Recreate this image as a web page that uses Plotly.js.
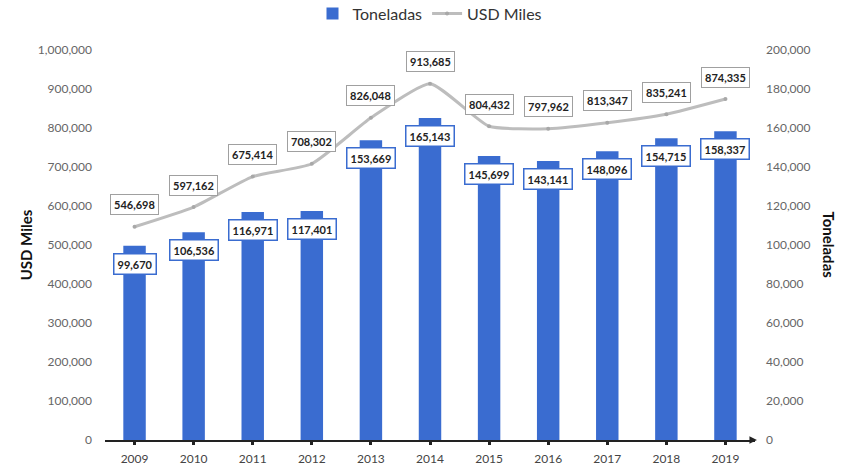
<!DOCTYPE html>
<html>
<head>
<meta charset="utf-8">
<script src="https://cdn.plot.ly/plotly-3.0.1.min.js"></script>
<style>html,body{margin:0;padding:0;background:#fff;}#chart{width:844px;height:472px;}</style>
</head>
<body>
<div id="chart"></div>
<script>
const years = ["2009","2010","2011","2012","2013","2014","2015","2016","2017","2018","2019"];
const toneladas = [99670,106536,116971,117401,153669,165143,145699,143141,148096,154715,158337];
const usdMiles = [546698,597162,675414,708302,826048,913685,804432,797962,813347,835241,874335];

const fontFam = "Lato, 'Open Sans', sans-serif";
const fmt = v => v.toLocaleString('en-US');

const barTrace = {
  type: 'bar', name: 'Toneladas', x: years, y: toneladas, yaxis: 'y2',
  marker: {color: '#3a6cd0'}, hoverinfo: 'none'
};
const lineTrace = {
  type: 'scatter', mode: 'lines+markers', name: 'USD Miles', x: years, y: usdMiles, yaxis: 'y',
  line: {color: '#bdbdbd', width: 3, shape: 'spline', smoothing: 0.5},
  marker: {color: '#a8a8a8', size: 4}, hoverinfo: 'none'
};

const annotations = [];
years.forEach((yr, i) => {
  annotations.push({
    x: i, y: usdMiles[i], xref: 'x', yref: 'y', text: fmt(usdMiles[i]),
    showarrow: false, yshift: 22,
    font: {family: fontFam, size: 11, color: '#222', weight: 'bold'},
    bgcolor: '#ffffff', bordercolor: '#a0a0a0', borderwidth: 1, borderpad: 3
  });
  annotations.push({
    x: i, y: toneladas[i], xref: 'x', yref: 'y2', text: fmt(toneladas[i]),
    showarrow: false, yshift: -18,
    font: {family: fontFam, size: 11, color: '#222', weight: 'bold'},
    bgcolor: '#ffffff', bordercolor: '#3a6cd0', borderwidth: 1.5, borderpad: 3
  });
});
annotations.push({
  xref: 'paper', yref: 'paper', x: 1.13, y: 0.5, text: 'Toneladas', textangle: 90,
  showarrow: false, font: {family: fontFam, size: 15, color: '#111', weight: 'bold'}
});
annotations.push({
  xref: 'paper', yref: 'paper', x: -0.138, y: 0.5, text: 'USD Miles', textangle: -90,
  showarrow: false, font: {family: fontFam, size: 15, color: '#111', weight: 'bold'}
});
annotations.push({
  xref: 'paper', yref: 'paper', x: 1.003, y: 0, ax: -6, ay: 0, axref: 'pixel', ayref: 'pixel',
  text: '', showarrow: true, arrowhead: 2, arrowsize: 1, arrowwidth: 1.5, arrowcolor: '#222'
});

const layout = {
  width: 844, height: 472,
  margin: {l: 105, r: 89, t: 50, b: 32},
  paper_bgcolor: '#ffffff', plot_bgcolor: '#ffffff',
  font: {family: fontFam, color: '#555'},
  bargap: 0.62,
  showlegend: true,
  legend: {orientation: 'h', x: 0.5, xanchor: 'center', y: 0.935, yanchor: 'bottom', yref: 'container',
    font: {family: fontFam, size: 16, color: '#333'}, traceorder: 'normal'},
  xaxis: {
    type: 'category', range: [-0.5, 10.5], showgrid: false, zeroline: false,
    showline: true, linecolor: '#222', linewidth: 1.5,
    ticks: 'outside', ticklen: 3, tickwidth: 3, tickcolor: '#222', ticklabelstandoff: 4,
    tickfont: {family: fontFam, size: 12, color: '#444'}
  },
  yaxis: {
    range: [0, 1000000], dtick: 100000, tickformat: ',d', showgrid: false, zeroline: false,
    showline: false, ticklabelstandoff: 12, tickfont: {family: fontFam, size: 12, color: '#666'}
  },
  yaxis2: {
    range: [0, 200000], dtick: 20000, tickformat: ',d', overlaying: 'y', side: 'right',
    showgrid: false, zeroline: false, showline: false, ticklabelstandoff: 10,
    tickfont: {family: fontFam, size: 12, color: '#666'}
  },
  annotations: annotations
};

Plotly.newPlot('chart', [barTrace, lineTrace], layout, {displayModeBar: false, staticPlot: true});
</script>
</body>
</html>
